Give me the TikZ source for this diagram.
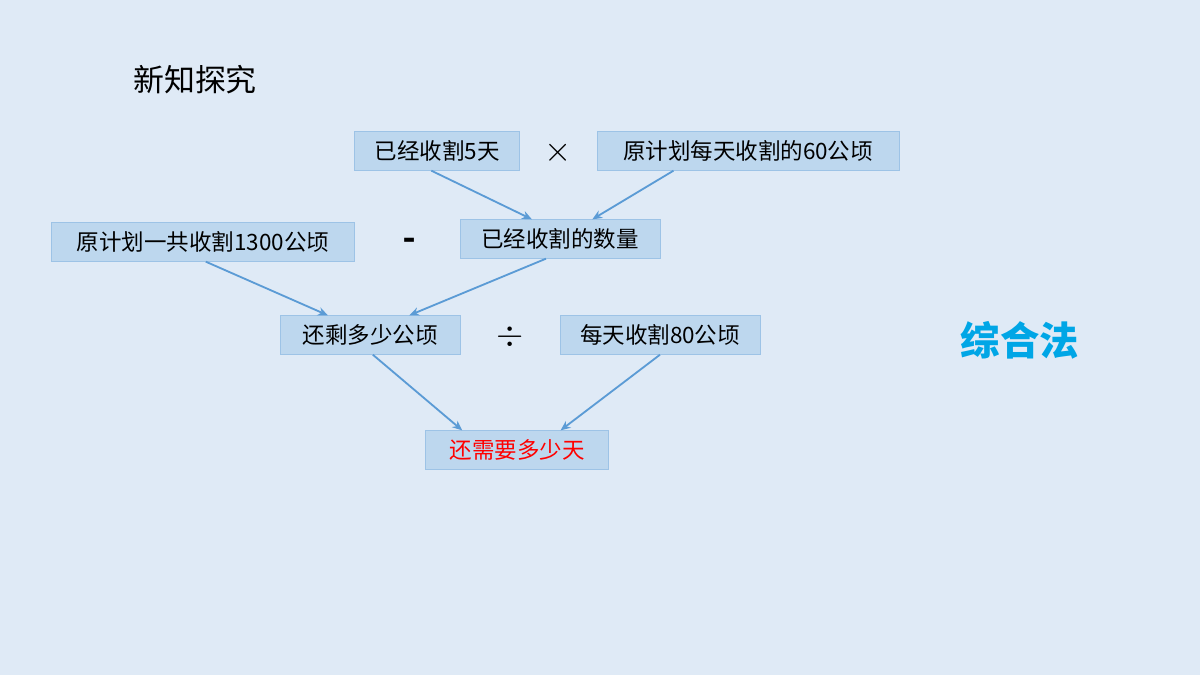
\documentclass[tikz,border=0pt]{standalone}
\usepackage{fontspec}
\setmainfont{Carlito}
\newfontfamily\cjk{Noto Sans CJK SC}
\usetikzlibrary{arrows.meta}
\definecolor{bgblue}{HTML}{DFEAF6}
\definecolor{boxfill}{HTML}{BDD7EE}
\definecolor{boxline}{HTML}{9DC3E6}
\definecolor{arrowblue}{HTML}{5B9BD5}
\definecolor{methodcyan}{HTML}{00A6E6}
\tikzset{
  qbox/.style={draw=boxline, fill=boxfill, minimum height=0.97cm, inner sep=0pt, font=\cjk\fontsize{16}{18}\selectfont},
  flow/.style={-{Stealth[length=7pt,width=6pt]}, draw=arrowblue, line width=1.3pt},
  sign/.style={font=\fontsize{28}{30}\selectfont\bfseries}
}
\begin{document}
\begin{tikzpicture}[x=0.025cm, y=-0.025cm]
\fill[bgblue] (0,0) rectangle (1200,675);
% title and method
\node[font=\cjk\fontsize{22}{24}\selectfont] (title) at (195,80) {新知探究};
\node[font=\cjk\fontsize{28}{30}\selectfont\bfseries, text=methodcyan] (method) at (1020,340) {综合法};

% first row
\node[qbox, minimum width=4.12cm] (days) at (437,151) {已经收割5天};
\node[sign] (times) at (558,153) {$\times$};
\node[qbox, minimum width=7.55cm] (plan) at (748,151) {原计划每天收割的60公顷};

% second row
\node[qbox, minimum width=7.57cm] (total) at (203,242) {原计划一共收割1300公顷};
\node[sign] (minus) at (410,245) {-};
\node[qbox, minimum width=5cm] (done) at (560,239) {已经收割的数量};

% third row
\node[qbox, minimum width=4.5cm] (left) at (370,335) {还剩多少公顷};
\node[sign] (divide) at (510,337) {$\div$};
\node[qbox, minimum width=5cm] (speed) at (660,335) {每天收割80公顷};

% answer
\node[qbox, minimum width=4.57cm, text=red] (answer) at (517,450) {还需要多少天};

% arrows
\draw[flow] ([xshift=-4]days.south) -- ([xshift=-20]done.north);
\draw[flow] ([xshift=-53]plan.south) -- ([xshift=23]done.north);
\draw[flow] ([xshift=2]total.south) -- ([xshift=-30]left.north);
\draw[flow] ([xshift=-10]done.south) -- ([xshift=28]left.north);
\draw[flow] ([xshift=2]left.south) -- ([xshift=-39]answer.north);
\draw[flow] (speed.south) -- ([xshift=31]answer.north);
\end{tikzpicture}
\end{document}
